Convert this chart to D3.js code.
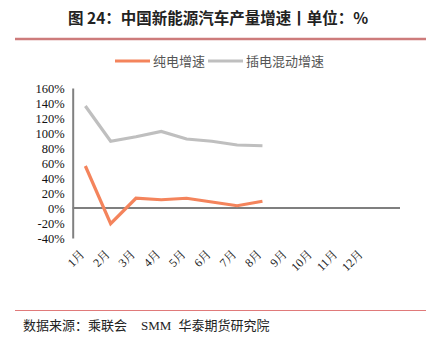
<!DOCTYPE html>
<html><head><meta charset="utf-8">
<script src="https://cdn.jsdelivr.net/npm/d3@7/dist/d3.min.js"></script>
<style>body{margin:0;background:#fff} text{white-space:pre}</style>
</head><body>
<svg id="c" width="439" height="345"></svg>
<script>
const months = ["1月","2月","3月","4月","5月","6月","7月","8月","9月","10月","11月","12月"];
const bevGrowth = [56, -21, 13, 11, 13, 8, 3, 9];
const phevGrowth = [136, 89, 95, 102, 92, 89, 84, 83];
const yTicks = [-40,-20,0,20,40,60,80,100,120,140,160];
const seriesNames = ["纯电增速","插电混动增速"];
const colors = ["#F4845C","#BFBFBF"];

const svg = d3.select("#c");
const serif = "'Liberation Serif','Times New Roman','Noto Serif CJK SC','Noto Sans CJK SC',serif";
const cjk = "'Noto Sans CJK SC',sans-serif";

// title
svg.append("text").attr("x",68).attr("y",24).attr("font-family",cjk).attr("font-weight","bold")
  .attr("font-size",15.5).attr("fill","#222").text("图 24：中国新能源汽车产量增速丨单位：%");
svg.append("line").attr("x1",15).attr("x2",426).attr("y1",39).attr("y2",39)
  .attr("stroke","#CD7B7B").attr("stroke-width",2.5);

// source
svg.append("line").attr("x1",15).attr("x2",426).attr("y1",310.5).attr("y2",310.5)
  .attr("stroke","#E07A7A").attr("stroke-width",1.2);
const src = svg.append("text").attr("x",23).attr("y",330).attr("font-size",13).attr("fill","#222");
src.append("tspan").attr("font-family",cjk).text("数据来源：乘联会");
src.append("tspan").attr("font-family",serif).attr("dx",14).text("SMM");
src.append("tspan").attr("font-family",cjk).attr("dx",7).text("华泰期货研究院");

const x = d3.scaleBand().domain(months).range([72.7, 72.7 + 12*25.3]);
const y = d3.scaleLinear().domain([-40,160]).range([238, 88]);

// y axis
const ya = svg.append("g").attr("transform","translate(72.7,0)")
  .call(d3.axisLeft(y).tickValues(yTicks).tickSize(0).tickPadding(8).tickFormat(d=>d+"%"));
ya.select(".domain").attr("stroke","#808080").attr("stroke-width",2);
ya.selectAll("text").attr("font-family",serif).attr("font-size",12.5).attr("fill","#111");

// zero line
svg.append("line").attr("x1",72.7).attr("x2",400).attr("y1",y(0)).attr("y2",y(0))
  .attr("stroke","#7f7f7f").attr("stroke-width",1.8);

// x labels
svg.append("g").selectAll("text").data(months).join("text")
  .attr("transform",d=>`translate(${x(d)+x.bandwidth()/2-3},${252}) rotate(-45)`)
  .attr("text-anchor","end").attr("font-family",serif).attr("font-size",12).attr("fill","#222")
  .attr("dy","0.35em").text(d=>d);

const line = d3.line().x((d,i)=>x(months[i])+x.bandwidth()/2).y(d=>y(d));
[bevGrowth, phevGrowth].forEach((s,k)=>{
  svg.append("path").datum(s).attr("d",line).attr("fill","none")
    .attr("stroke",colors[k]).attr("stroke-width",3.2).attr("stroke-linejoin","miter");
});

// legend
const leg = [{x:115,tx:153},{x:208,tx:246}];
seriesNames.forEach((n,k)=>{
  svg.append("line").attr("x1",leg[k].x).attr("x2",leg[k].x+35).attr("y1",61).attr("y2",61)
    .attr("stroke",colors[k]).attr("stroke-width",3.2);
  svg.append("text").attr("x",leg[k].tx).attr("y",65.5).attr("font-family",cjk)
    .attr("font-size",13).attr("fill","#555").text(n);
});
</script>
</body></html>
